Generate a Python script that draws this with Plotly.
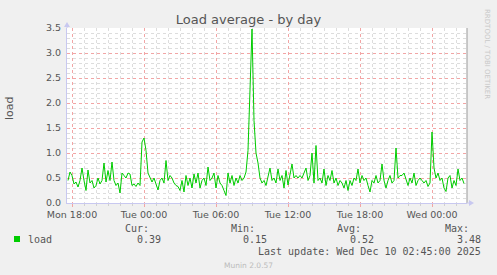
import plotly.graph_objects as go
import pandas as pd

# ---- data: 10-minute samples of load average ----
start_time = "2025-12-08 17:40"
sample_minutes = 10
load_values = [
    0.45, 0.62,                                   # Mon 17:40-17:50
    0.55, 0.38, 0.42, 0.32, 0.45, 0.70,           # 18
    0.45, 0.25, 0.66, 0.40, 0.45, 0.30,           # 19
    0.35, 0.50, 0.38, 0.45, 0.80, 0.42,           # 20
    0.65, 0.45, 0.82, 0.45, 0.35, 0.40,           # 21
    0.20, 0.60, 0.55, 0.50, 0.60, 0.58,           # 22
    0.35, 0.38, 0.33, 0.40, 0.35, 1.22,           # 23
    1.30, 1.05, 0.60, 0.50, 0.42, 0.50,           # Tue 00
    0.38, 0.26, 0.45, 0.50, 0.40, 0.85,           # 01
    0.45, 0.55, 0.50, 0.40, 0.35, 0.33,           # 02
    0.25, 0.45, 0.22, 0.55, 0.35, 0.50,           # 03
    0.30, 0.58, 0.40, 0.60, 0.30, 0.45,           # 04
    0.50, 0.35, 0.72, 0.45, 0.50, 0.60,           # 05
    0.30, 0.55, 0.40, 0.35, 0.25, 0.15,           # 06
    0.60, 0.40, 0.55, 0.35, 0.50, 0.40,           # 07
    0.55, 0.45, 0.50, 0.62, 1.05, 2.30,           # 08
    3.48, 1.65, 1.00, 0.80, 0.50, 0.40,           # 09
    0.45, 0.35, 0.50, 0.70, 0.45, 0.50,           # 10
    0.40, 0.68, 0.45, 0.55, 0.30, 0.65,           # 11
    0.36, 0.55, 0.78, 0.50, 0.55, 0.50,           # 12
    0.55, 0.50, 0.60, 0.70, 0.45, 0.55,           # 13
    1.00, 0.40, 1.15, 0.45, 0.50, 0.40,           # 14
    0.68, 0.35, 0.55, 0.45, 0.65, 0.40,           # 15
    0.50, 0.35, 0.45, 0.40, 0.30, 0.45,           # 16
    0.25, 0.45, 0.35, 0.50, 0.45, 0.68,           # 17
    0.40, 0.55, 0.45, 0.50, 0.35, 0.22,           # 18
    0.45, 0.40, 0.55, 0.40, 0.45, 0.78,           # 19
    0.45, 0.30, 0.45, 0.55, 0.40, 0.45,           # 20
    1.10, 0.50, 0.55, 0.55, 0.60, 0.45,           # 21
    0.35, 0.50, 0.40, 0.60, 0.35, 0.45,           # 22
    0.50, 0.45, 0.40, 0.45, 0.33, 0.40,           # 23
    1.42, 0.70, 0.50, 0.60, 0.45, 0.50,           # Wed 00
    0.30, 0.23, 0.50, 0.55, 0.30, 0.45,           # 01
    0.35, 0.68, 0.45, 0.50, 0.39,                 # 02
]
times = pd.date_range(start_time, periods=len(load_values), freq=f"{sample_minutes}min")

x_range = ["2025-12-08 17:35", "2025-12-10 02:55"]
y_range = [0, 3.5]
legend_name = "load"
y_title = "load"
stat_labels = ["Cur:", "Min:", "Avg:", "Max:"]
stat_values = ["0.39", "0.15", "0.52", "3.48"]
last_update = "Last update: Wed Dec 10 02:45:00 2025"

W, H = 497, 275
L, R, T, B = 67, 467, 28, 203


def px(x):
    return (x - L) / (R - L)


def py(y):
    return (B - y) / (B - T)


fig = go.Figure()
fig.add_trace(go.Scatter(x=times, y=load_values, mode="lines",
                         line=dict(color="#00CC00", width=1), name=legend_name,
                         hoverinfo="skip"))

fig.update_layout(
    width=W, height=H,
    margin=dict(l=L, r=W - R, t=T, b=H - B, pad=0),
    paper_bgcolor="#F0F0F0", plot_bgcolor="#FFFFFF",
    showlegend=False,
    font=dict(family="DejaVu Sans", size=10, color="#555555"),
    title=dict(text="Load average - by day", x=0.5, xanchor="center",
               y=1 - 19 / H, yanchor="middle",
               font=dict(family="DejaVu Sans", size=13, color="#555555")),
)

fig.update_xaxes(
    type="date", range=x_range,
    tickmode="linear", tick0="2025-12-08 18:00", dtick=6 * 3600000,
    tickformat="%a %H:%M",
    showgrid=True, gridcolor="#F2A5A5", griddash="dot", gridwidth=1,
    ticks="outside", ticklen=3, tickcolor="#F2A5A5",
    tickfont=dict(family="DejaVu Sans", size=9.5, color="#555555"),
    showline=True, linecolor="#C8C8F0", linewidth=1,
    zeroline=False,
    minor=dict(dtick=3600000, tick0="2025-12-08 18:00", showgrid=True,
               gridcolor="#DDDDDD", griddash="dot", gridwidth=1,
               ticks="outside", ticklen=2, tickcolor="#D0D0D0"),
)
fig.update_yaxes(
    range=y_range, tickmode="linear", tick0=0, dtick=0.5, tickformat=".1f",
    showgrid=True, gridcolor="#F2A5A5", griddash="dot", gridwidth=1,
    ticks="outside", ticklen=3, tickcolor="rgba(0,0,0,0)",
    tickfont=dict(family="DejaVu Sans", size=9.5, color="#555555"),
    showline=True, linecolor="#C8C8F0", linewidth=1,
    zeroline=False,
    minor=dict(dtick=0.1, showgrid=True, gridcolor="#DDDDDD",
               griddash="dot", gridwidth=1),
)

# right frame line and axis arrows
fig.add_shape(type="line", xref="paper", yref="paper", x0=1, x1=1, y0=0, y1=1,
              line=dict(color="#999999", width=1))
fig.add_shape(type="path", xref="paper", yref="paper",
              path=f"M {px(469)} {py(200)} L {px(474)} {py(203)} L {px(469)} {py(206)} Z",
              fillcolor="#C8C8F0", line=dict(width=0))
fig.add_shape(type="path", xref="paper", yref="paper",
              path=f"M {px(64)} {py(27)} L {px(67)} {py(22)} L {px(70)} {py(27)} Z",
              fillcolor="#C8C8F0", line=dict(width=0))
fig.add_shape(type="line", xref="paper", yref="paper", x0=1, x1=px(470), y0=0, y1=0,
              line=dict(color="#C8C8F0", width=1))
fig.add_shape(type="line", xref="paper", yref="paper", x0=0, x1=0, y0=1, y1=py(25),
              line=dict(color="#C8C8F0", width=1))

mono = dict(family="DejaVu Sans Mono", size=10, color="#555555")
ann = []
# y-axis title
ann.append(dict(text=y_title, x=px(9), y=py(108), xanchor="center", yanchor="middle",
                textangle=-90, font=dict(family="DejaVu Sans", size=11, color="#555555")))
# legend swatch and name
fig.add_shape(type="rect", xref="paper", yref="paper",
              x0=px(14), x1=px(20), y0=py(236), y1=py(242),
              fillcolor="#00CC00", line=dict(width=0))
ann.append(dict(text=legend_name, x=px(26), y=py(239.5), xanchor="left", yanchor="middle", font=mono))
label_right = [151, 257, 363, 471]
value_right = [163, 269, 376, 483]
for lab, val, lr, vr in zip(stat_labels, stat_values, label_right, value_right):
    ann.append(dict(text=lab, x=px(lr), y=py(228), xanchor="right", yanchor="middle", font=mono))
    ann.append(dict(text=val, x=px(vr), y=py(239.5), xanchor="right", yanchor="middle", font=mono))
ann.append(dict(text=last_update, x=px(483), y=py(251.5), xanchor="right", yanchor="middle", font=mono))
ann.append(dict(text="Munin 2.0.57", x=px(248), y=py(265.5), xanchor="center", yanchor="middle",
                font=dict(family="DejaVu Sans", size=7.5, color="#BBBBBB")))
ann.append(dict(text="RRDTOOL / TOBI OETIKER", x=px(487), y=py(54), xanchor="center", yanchor="middle",
                textangle=90, font=dict(family="DejaVu Sans", size=7, color="#C8C8C8")))
for a in ann:
    a.update(xref="paper", yref="paper", showarrow=False)
fig.update_layout(annotations=ann)

fig.write_html("out.html")
